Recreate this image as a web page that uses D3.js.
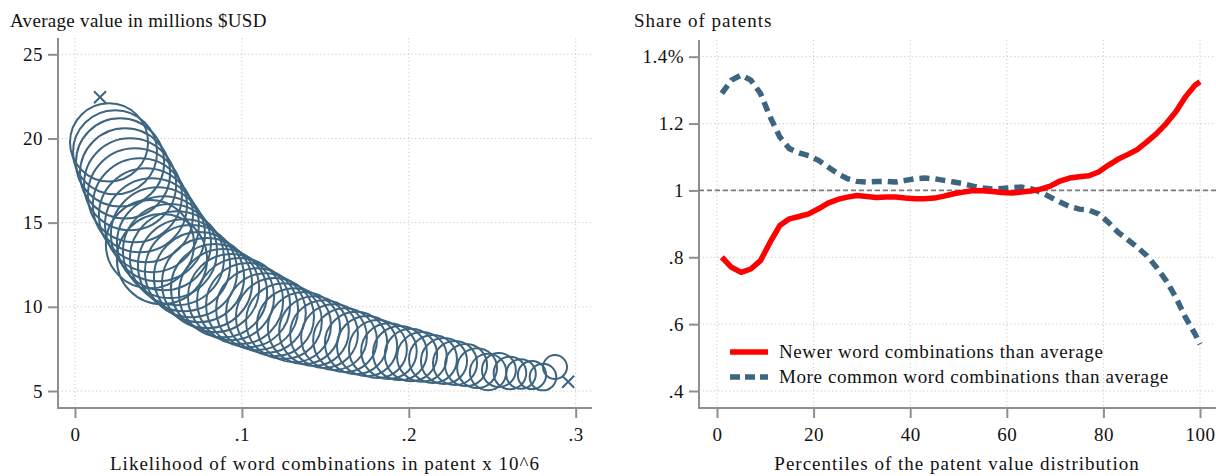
<!DOCTYPE html>
<html>
<head>
<meta charset="utf-8">
<script src="https://cdn.jsdelivr.net/npm/d3@7"></script>
<style>
  html, body { margin: 0; padding: 0; background: #fff; }
  svg { display: block; }
  text { font-family: "Liberation Serif", "DejaVu Serif", serif; fill: #111; letter-spacing: 0.5px; }
  .ytitle { letter-spacing: 0.3px; }
  .ytitle.wide { letter-spacing: 1px; }
  .xtitle { letter-spacing: 1px; }
  .legend-text { letter-spacing: 0.6px; }
</style>
</head>
<body>
<svg id="chart" width="1216" height="476"></svg>
<script>
// ---- Left panel: binned scatter of patent value vs. word-combination likelihood
const likelihood = [
  0.0204, 0.0240, 0.0270, 0.0300, 0.0330, 0.0359, 0.0389, 0.0425, 0.0449, 0.0461,
  0.0497, 0.0521, 0.0533, 0.0569, 0.0611, 0.0653, 0.0695, 0.0743, 0.0791, 0.0839,
  0.0887, 0.0935, 0.0989, 0.1037, 0.1091, 0.1144, 0.1198, 0.1252, 0.1312, 0.1372,
  0.1432, 0.1492, 0.1552, 0.1618, 0.1684, 0.1750, 0.1815, 0.1881, 0.1947, 0.2013,
  0.2079, 0.2145, 0.2211, 0.2277, 0.2343, 0.2409, 0.2475, 0.2540, 0.2606, 0.2672,
  0.2738, 0.2804, 0.2876
];
const avgValue = [
  19.77, 19.18, 18.58, 17.93, 17.28, 16.63, 16.03, 15.44, 13.72, 14.85,
  14.31, 12.83, 13.78, 13.31, 12.89, 12.47, 12.12, 11.76, 11.41, 11.11,
  10.81, 10.58, 10.34, 10.10, 9.86, 9.63, 9.39, 9.15, 8.91, 8.74,
  8.56, 8.38, 8.20, 8.02, 7.85, 7.67, 7.49, 7.37, 7.25, 7.14,
  7.02, 6.90, 6.78, 6.66, 6.54, 6.36, 6.13, 6.25, 6.07, 6.01,
  5.95, 5.83, 6.42
];
const binWeight = [
  69, 80, 88, 92, 96, 100, 100, 100, 88, 100,
  100, 92, 100, 100, 100, 96, 96, 92, 92, 88,
  88, 84, 84, 80, 76, 72, 69, 65, 62, 59,
  55, 52, 49, 46, 44, 41, 38, 35, 33, 31,
  28, 26, 24, 22, 20, 18, 15, 13, 12, 10,
  9, 8, 6.5
];
// end-point bins drawn with an X marker
const endLikelihood = [0.015, 0.2955];
const endValue = [22.45, 5.55];

const leftXTicks = [0, 0.1, 0.2, 0.3];
const leftXTickLabels = ["0", ".1", ".2", ".3"];
const leftYTicks = [5, 10, 15, 20, 25];
const leftYTickLabels = ["5", "10", "15", "20", "25"];

// ---- Right panel: share of patents by value percentile
const percentile = [1, 3, 5, 7, 9, 11, 13, 15, 17, 19, 21, 23, 25, 27, 29, 31, 33, 35, 37, 39,
  41, 43, 45, 47, 49, 51, 53, 55, 57, 59, 61, 63, 65, 67, 69, 71, 73, 75, 77, 79,
  81, 83, 85, 87, 89, 91, 93, 95, 97, 99, 100];
const newerShare = [0.80, 0.77, 0.755, 0.765, 0.79, 0.845, 0.895, 0.915, 0.922, 0.93,
  0.945, 0.962, 0.973, 0.98, 0.985, 0.982, 0.979, 0.98, 0.98, 0.977,
  0.975, 0.975, 0.977, 0.983, 0.99, 0.995, 1.0, 0.999, 0.997, 0.994,
  0.992, 0.995, 0.998, 1.004, 1.013, 1.028, 1.037, 1.041, 1.044, 1.055,
  1.075, 1.093, 1.107, 1.122, 1.145, 1.17, 1.2, 1.235, 1.28, 1.315, 1.325];
const commonShare = [1.29, 1.33, 1.345, 1.33, 1.29, 1.22, 1.16, 1.125, 1.112, 1.104,
  1.09, 1.07, 1.05, 1.035, 1.027, 1.025, 1.027, 1.027, 1.025, 1.03,
  1.035, 1.037, 1.035, 1.03, 1.025, 1.02, 1.013, 1.007, 1.004, 1.006,
  1.008, 1.01, 1.005, 0.995, 0.98, 0.965, 0.952, 0.944, 0.941, 0.93,
  0.905, 0.875, 0.853, 0.83, 0.805, 0.77, 0.73, 0.68, 0.62, 0.57, 0.54];
const seriesNames = ["Newer word combinations than average", "More common word combinations than average"];

const rightXTicks = [0, 20, 40, 60, 80, 100];
const rightYTicks = [0.4, 0.6, 0.8, 1, 1.2, 1.4];
const rightYTickLabels = [".4", ".6", ".8", "1", "1.2", "1.4%"];

// ---- Styling
const NAVY = "#3d6580";
const RED = "#ff0000";
const AXIS = "#8f8f8f";
const GRID = "#c9c9c9";
const FS = 19;

const svg = d3.select("#chart");
svg.append("rect").attr("width", 1216).attr("height", 476).attr("fill", "#fff");

function panel(opt) {
  const g = svg.append("g");
  const { x, y, frame } = opt;
  // grid
  g.append("g").selectAll("line").data(opt.xTicks).join("line")
    .attr("x1", d => x(d)).attr("x2", d => x(d))
    .attr("y1", frame.top).attr("y2", frame.bottom)
    .attr("stroke", GRID).attr("stroke-width", 1).attr("stroke-dasharray", "1.2,2.6");
  g.append("g").selectAll("line").data(opt.yTicks).join("line")
    .attr("x1", frame.left).attr("x2", frame.right)
    .attr("y1", d => y(d)).attr("y2", d => y(d))
    .attr("stroke", GRID).attr("stroke-width", 1).attr("stroke-dasharray", "1.2,2.6");

  // axes
  const ax = g.append("g").attr("transform", `translate(0,${frame.bottom})`)
    .call(d3.axisBottom(x).tickValues(opt.xTicks).tickSize(10).tickPadding(10)
      .tickFormat((d, i) => opt.xLabels[i]));
  const ay = g.append("g").attr("transform", `translate(${frame.left},0)`)
    .call(d3.axisLeft(y).tickValues(opt.yTicks).tickSize(10).tickPadding(5)
      .tickFormat((d, i) => opt.yLabels[i]));
  [ax, ay].forEach(a => {
    a.select(".domain").remove();
    a.selectAll(".tick line").attr("stroke", AXIS).attr("stroke-width", 2);
    a.selectAll(".tick text").attr("font-size", FS).attr("fill", "#111")
      .attr("font-family", '"Liberation Serif", serif');
  });
  g.append("line").attr("x1", frame.left).attr("x2", frame.left)
    .attr("y1", frame.top).attr("y2", frame.bottom + 1)
    .attr("stroke", AXIS).attr("stroke-width", 2);
  g.append("line").attr("x1", frame.left - 1).attr("x2", frame.right)
    .attr("y1", frame.bottom).attr("y2", frame.bottom)
    .attr("stroke", AXIS).attr("stroke-width", 2);

  // titles
  svg.append("text").attr("class", "ytitle" + (opt.wideTitle ? " wide" : ""))
    .attr("x", opt.yTitleX).attr("y", 27).attr("font-size", FS).text(opt.yTitle);
  svg.append("text").attr("class", "xtitle").attr("x", opt.xTitleX).attr("y", 470).attr("font-size", FS)
    .attr("text-anchor", "middle").text(opt.xTitle);
  return g;
}

// Left panel
const xL = d3.scaleLinear().domain([0, 0.3]).range([75, 575.7]);
const yL = d3.scaleLinear().domain([5, 25]).range([391, 54.3]);
const gL = panel({
  x: xL, y: yL, frame: { left: 58, right: 592, top: 38, bottom: 408 },
  xTicks: leftXTicks, xLabels: leftXTickLabels,
  yTicks: leftYTicks, yLabels: leftYTickLabels,
  yTitle: "Average value in millions $USD", yTitleX: 10,
  xTitle: "Likelihood of word combinations in patent x 10^6", xTitleX: 325
});
const rScale = d3.scaleSqrt().domain([0, d3.max(binWeight)]).range([0, 47]);
const bins = likelihood.map((v, i) => ({ x: v, y: avgValue[i], w: binWeight[i] }));
gL.append("g").selectAll("circle").data(bins).join("circle")
  .attr("cx", d => xL(d.x)).attr("cy", d => yL(d.y)).attr("r", d => rScale(d.w))
  .attr("fill", "none").attr("stroke", NAVY).attr("stroke-width", 2);
gL.append("g").selectAll("path").data(endLikelihood.map((v, i) => ({ x: v, y: endValue[i] }))).join("path")
  .attr("transform", d => `translate(${xL(d.x)},${yL(d.y)})`)
  .attr("d", d3.symbol(d3.symbolX, 96))
  .attr("fill", "none").attr("stroke", NAVY).attr("stroke-width", 2);

// Right panel
const xR = d3.scaleLinear().domain([0, 100]).range([717, 1200]);
const yR = d3.scaleLinear().domain([0.4, 1.4]).range([391, 56.7]);
const gR = panel({
  x: xR, y: yR, frame: { left: 699, right: 1216, top: 40, bottom: 408 },
  xTicks: rightXTicks, xLabels: rightXTicks.map(String),
  yTicks: rightYTicks, yLabels: rightYTickLabels,
  yTitle: "Share of patents", yTitleX: 634, wideTitle: true,
  xTitle: "Percentiles of the patent value distribution", xTitleX: 957
});
gR.append("line").attr("x1", 699).attr("x2", 1216).attr("y1", yR(1)).attr("y2", yR(1))
  .attr("stroke", "#7a7a7a").attr("stroke-width", 1.6).attr("stroke-dasharray", "5,3");

const line = d3.line().x(d => xR(d[0])).y(d => yR(d[1])).curve(d3.curveLinear);
gR.append("path").datum(percentile.map((p, i) => [p, commonShare[i]]))
  .attr("d", line).attr("fill", "none").attr("stroke", NAVY).attr("stroke-width", 5.5)
  .attr("stroke-dasharray", "10,6");
gR.append("path").datum(percentile.map((p, i) => [p, newerShare[i]]))
  .attr("d", line).attr("fill", "none").attr("stroke", RED).attr("stroke-width", 5.5)
  .attr("stroke-linejoin", "round");

// Legend
const legend = gR.append("g");
const styles = [{ c: RED, dash: null }, { c: NAVY, dash: "10,5" }];
seriesNames.forEach((name, i) => {
  const yy = 352 + i * 25;
  legend.append("line").attr("x1", 730).attr("x2", 768).attr("y1", yy).attr("y2", yy)
    .attr("stroke", styles[i].c).attr("stroke-width", 5.5)
    .attr("stroke-dasharray", styles[i].dash);
  legend.append("text").attr("class", "legend-text").attr("x", 779).attr("y", yy + 6)
    .attr("font-size", FS).text(name);
});
</script>
</body>
</html>
